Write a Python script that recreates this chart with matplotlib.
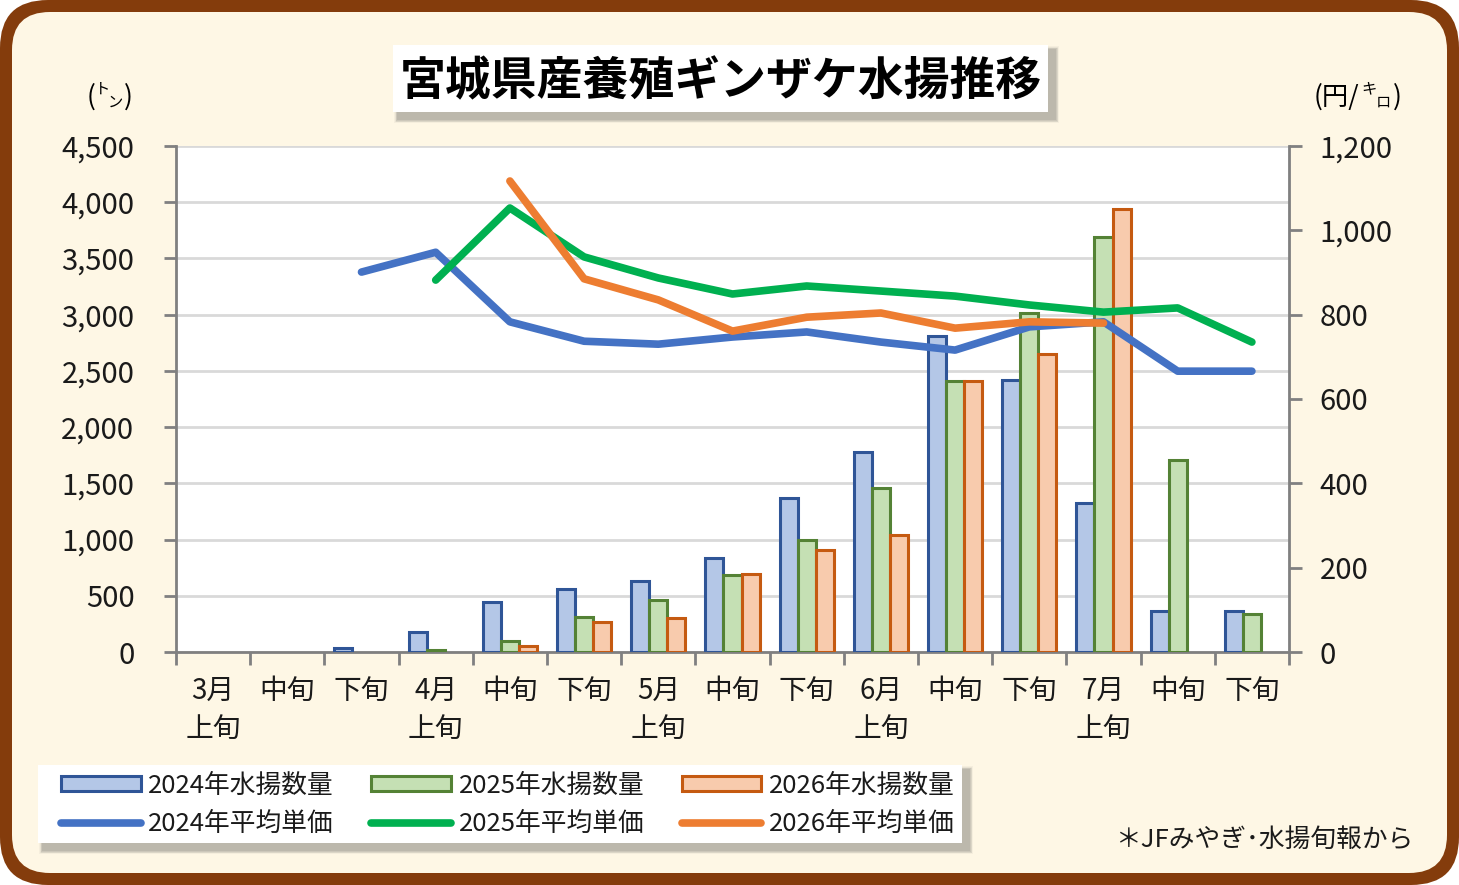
import numpy as np
import matplotlib
matplotlib.use('Agg')
import matplotlib.pyplot as plt
from matplotlib.patches import FancyBboxPatch, Rectangle
from matplotlib.lines import Line2D
from matplotlib.ticker import FuncFormatter

plt.rcParams['font.family'] = ['Noto Sans CJK JP', 'DejaVu Sans']

# data
labels = ['3月\n上旬', '中旬', '下旬', '4月\n上旬', '中旬', '下旬', '5月\n上旬', '中旬', '下旬',
          '6月\n上旬', '中旬', '下旬', '7月\n上旬', '中旬', '下旬']
nan = np.nan
vol_2024 = [0, 0, 40, 175, 445, 560, 630, 835, 1370, 1780, 2810, 2420, 1325, 365, 365]
vol_2025 = [0, 0, 0, 18, 98, 310, 462, 685, 996, 1459, 2410, 3015, 3690, 1708, 338]
vol_2026 = [0, 0, 0, 0, 50, 267, 302, 692, 905, 1040, 2410, 2650, 3940, nan, nan]
price_2024 = [nan, nan, 901, 948, 783, 737, 730, 747, 759, 735, 716, 771, 783, 666, 666]
price_2025 = [nan, nan, nan, 882, 1053, 937, 887, 849, 868, 856, 844, 823, 806, 816, 735]
price_2026 = [nan, nan, nan, nan, 1117, 885, 835, 761, 794, 804, 768, 783, 780, nan, nan]

W, H = 1459, 885
fig = plt.figure(figsize=(W / 100, H / 100), dpi=100, facecolor='white')

# background frame, drawn in pixel units
bg = fig.add_axes([0, 0, 1, 1], zorder=-5)
bg.set_xlim(0, W)
bg.set_ylim(H, 0)
bg.axis('off')
bg.add_patch(FancyBboxPatch((0, 0), W, H, boxstyle='round,pad=0,rounding_size=48',
                            fc='#843C0C', ec='none'))
bg.add_patch(FancyBboxPatch((12, 12), W - 24, H - 24, boxstyle='round,pad=0,rounding_size=38',
                            fc='#FEF7E5', ec='none'))


def shadow_box(x0, y0, x1, y1):
    for i, a in enumerate([0.05, 0.07, 0.09, 0.11, 0.13]):
        d = 10 - i * 1.5
        bg.add_patch(Rectangle((x0 + 6 - d / 2, y0 + 6 - d / 2), x1 - x0 + d, y1 - y0 + d,
                               fc='#555555', ec='none', alpha=a))
    bg.add_patch(Rectangle((x0, y0), x1 - x0, y1 - y0, fc='white', ec='none'))


# title
shadow_box(393, 45, 1048, 112)
bg.text(721, 82, '宮城県産養殖ギンザケ水揚推移', fontsize=33, fontweight='bold',
        ha='center', va='center', color='black')

# legend background box
shadow_box(38, 765, 962, 843)

# unit labels
bg.text(87, 97, '(', fontsize=19, ha='left', va='center')
bg.text(95, 89, 'ト', fontsize=11, ha='left', va='center')
bg.text(108, 102, 'ン', fontsize=11, ha='left', va='center')
bg.text(124, 97, ')', fontsize=19, ha='left', va='center')

bg.text(1314, 97, '(円/', fontsize=19, ha='left', va='center')
bg.text(1361, 89, 'キ', fontsize=11, ha='left', va='center')
bg.text(1376, 102, 'ロ', fontsize=11, ha='left', va='center')
bg.text(1393, 97, ')', fontsize=19, ha='left', va='center')

bg.text(1413, 840, '＊JFみやぎ･水揚旬報から', fontsize=18.5, ha='right', va='center', color='#1a1a1a')

# main axes
ax = fig.add_axes([176 / W, 1 - 652 / H, (1289 - 176) / W, (652 - 146) / H])
ax.set_facecolor('white')
x = np.arange(len(labels))
bw = 0.243
gray = '#808080'
bar_styles = [('#B4C7E7', '#2F5597'), ('#C5E0B4', '#548235'), ('#F8CBAD', '#C55A11')]
bars = []
for k, vals in enumerate([vol_2024, vol_2025, vol_2026]):
    fc, ec = bar_styles[k]
    b = ax.bar(x + (k - 1) * bw, vals, bw, color=fc, edgecolor=ec, linewidth=2.2, zorder=3)
    for r in b:
        if not r.get_height() > 0:
            r.set_visible(False)
    bars.append(b)

ax.set_xlim(-0.5, len(labels) - 0.5)
ax.set_ylim(0, 4500)
ax.set_yticks(np.arange(0, 4501, 500))
ax.yaxis.set_major_formatter(FuncFormatter(lambda v, p: f'{int(v):,}'))
ax.grid(axis='y', color='#D9D9D9', linewidth=2, zorder=0)
ax.set_axisbelow(True)
ax.set_xticks(np.arange(-0.5, len(labels), 1))
ax.set_xticklabels([])
ax.set_xticks(x, minor=True)
ax.set_xticklabels(labels, minor=True, fontsize=20, linespacing=1.35, color='#1a1a1a')
ax.tick_params(axis='x', which='major', length=9, width=2, color=gray, direction='out')
ax.tick_params(axis='x', which='minor', length=0, pad=17)
ax.tick_params(axis='y', length=9, width=2, color=gray, labelsize=21, pad=21, labelcolor='#1a1a1a')
for s in ['top', 'right']:
    ax.spines[s].set_visible(False)
for s in ['left', 'bottom']:
    ax.spines[s].set_color(gray)
    ax.spines[s].set_linewidth(2)

ax2 = ax.twinx()
ax2.set_ylim(0, 1200)
ax2.set_yticks(np.arange(0, 1201, 200))
ax2.yaxis.set_major_formatter(FuncFormatter(lambda v, p: f'{int(v):,}'))
lkw = dict(linewidth=5.5, solid_capstyle='round', solid_joinstyle='round', zorder=4)
line_colors = ['#4472C4', '#00B050', '#ED7D31']
lines = []
for vals, c in zip([price_2024, price_2025, price_2026], line_colors):
    l, = ax2.plot(x, vals, color=c, **lkw)
    lines.append(l)
ax2.tick_params(axis='y', length=9, width=2, color=gray, labelsize=21, pad=13, labelcolor='#1a1a1a')
for s in ['top', 'left', 'bottom']:
    ax2.spines[s].set_visible(False)
ax2.spines['right'].set_color(gray)
ax2.spines['right'].set_linewidth(2)

# legend (proxy patches for the bars)
bar_handles = [Rectangle((0, 0), 1, 1, fc=fc, ec=ec, lw=2.2) for fc, ec in bar_styles]
handles = [bar_handles[0], lines[0], bar_handles[1], lines[1], bar_handles[2], lines[2]]
names = ['2024年水揚数量', '2024年平均単価', '2025年水揚数量', '2025年平均単価',
         '2026年水揚数量', '2026年平均単価']
leg = fig.legend(handles, names, ncol=3, loc='center', bbox_to_anchor=(508 / W, 1 - 805 / H),
                 frameon=False, fontsize=18.5, handlelength=3.1, handleheight=0.55,
                 handletextpad=0.3, columnspacing=1.45, labelspacing=0.5)
for t in leg.get_texts():
    t.set_color('#1a1a1a')

fig.savefig('out.png', dpi=100, facecolor='white')
